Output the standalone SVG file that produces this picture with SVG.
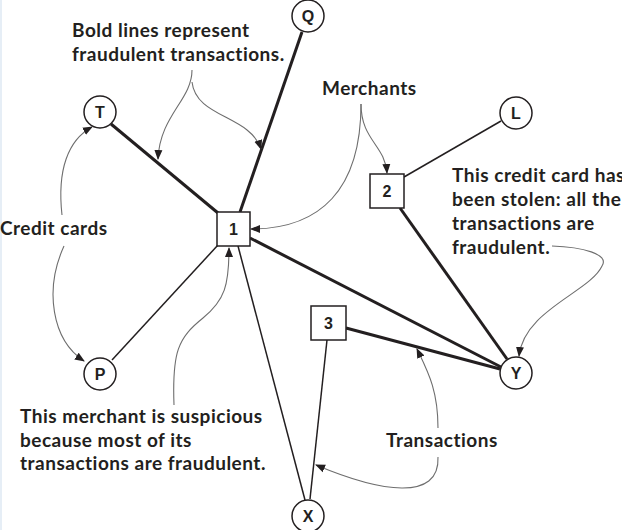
<svg xmlns="http://www.w3.org/2000/svg" width="622" height="530" viewBox="0 0 622 530">
<style>
.bg{fill:#ffffff}
.node{fill:#fff;stroke:#231f20;stroke-width:1.5}
.nl{font-family:"Liberation Sans",Arial,sans-serif;font-weight:bold;font-size:16px;fill:#231f20;text-anchor:middle}
.bold{stroke:#231f20;stroke-width:3;fill:none}
.thin{stroke:#231f20;stroke-width:1.5;fill:none}
.ann{stroke:#6e6e6e;stroke-width:1.1;fill:none;marker-end:url(#ah)}
.lbl{font-family:Lato,"Noto Sans",sans-serif;font-weight:bold;font-size:19px;letter-spacing:0.5px;fill:#231f20}
</style>
<defs>
<marker id="ah" markerUnits="userSpaceOnUse" markerWidth="10" markerHeight="10" viewBox="0 0 10 10" refX="9" refY="5" orient="auto">
<path d="M0,1 L10,5 L0,9 z" fill="#231f20"/>
</marker>
</defs>
<rect class="bg" x="0" y="0" width="622" height="530"/>
<rect x="0" y="0" width="2" height="530" fill="#e6eef6"/>
<g id="connectors">
<line class="bold" x1="111" y1="124" x2="218" y2="213"/>
<line class="bold" x1="302" y1="32" x2="240" y2="212"/>
<line class="thin" x1="112" y1="360" x2="218" y2="245"/>
<line class="bold" x1="250" y1="238" x2="501" y2="367"/>
<line class="thin" x1="238" y1="246" x2="305" y2="500"/>
<line class="thin" x1="404" y1="177" x2="501" y2="121"/>
<line class="bold" x1="400" y1="208" x2="507" y2="359"/>
<line class="bold" x1="346" y1="328" x2="500" y2="369"/>
<line class="thin" x1="327" y1="340" x2="310" y2="499"/>
</g>
<g id="annotations">
<path class="ann" d="M192,70 C192,100 160,115 158,159"/>
<path class="ann" d="M192,82 C196,118 250,115 261,149"/>
<path class="ann" d="M62,215 C57,170 68,140 92,127"/>
<path class="ann" d="M64,246 C44,290 52,340 84,361"/>
<path class="ann" d="M361,104 C361,140 385,145 387,173"/>
<path class="ann" d="M361,104 C361,190 320,229 251,229"/>
<path class="ann" d="M174,405 C172,352 178,338 203,318 C225,300 229,285 229,248"/>
<path class="ann" d="M552,246 C582,247 610,254 602,266 C590,292 524,310 519,356"/>
<path class="ann" d="M438,428 C438,390 428,372 417,349"/>
<path class="ann" d="M438,457 C440,502 380,492 316,465"/>
</g>
<g id="node-Q"><circle class="node" cx="308" cy="16" r="16"/><text class="nl" x="308" y="22">Q</text></g>
<g id="node-T"><circle class="node" cx="100" cy="112" r="16"/><text class="nl" x="100" y="118">T</text></g>
<g id="node-L"><circle class="node" cx="516" cy="113" r="16"/><text class="nl" x="516" y="119">L</text></g>
<g id="node-P"><circle class="node" cx="100" cy="374" r="16"/><text class="nl" x="100" y="380">P</text></g>
<g id="node-Y"><circle class="node" cx="516" cy="373" r="16"/><text class="nl" x="516" y="379">Y</text></g>
<g id="node-X"><circle class="node" cx="308" cy="516" r="16"/><text class="nl" x="308" y="522">X</text></g>
<g id="node-1"><rect class="node" x="217" y="212" width="33" height="34"/><text class="nl" x="233.5" y="235">1</text></g>
<g id="node-2"><rect class="node" x="370" y="174" width="34" height="34"/><text class="nl" x="387" y="197">2</text></g>
<g id="node-3"><rect class="node" x="311" y="306" width="35" height="34"/><text class="nl" x="328.5" y="329">3</text></g>
<g id="labels">
<text class="lbl" x="72" y="37">Bold lines represent</text>
<text class="lbl" x="72" y="61">fraudulent transactions.</text>
<text class="lbl" x="322" y="95">Merchants</text>
<text class="lbl" x="452" y="182">This credit card has</text>
<text class="lbl" x="452" y="206">been stolen: all the</text>
<text class="lbl" x="452" y="230">transactions are</text>
<text class="lbl" x="452" y="254">fraudulent.</text>
<text class="lbl" x="0" y="235">Credit cards</text>
<text class="lbl" x="20" y="423">This merchant is suspicious</text>
<text class="lbl" x="20" y="447">because most of its</text>
<text class="lbl" x="20" y="470">transactions are fraudulent.</text>
<text class="lbl" x="386" y="447">Transactions</text>
</g>
</svg>
